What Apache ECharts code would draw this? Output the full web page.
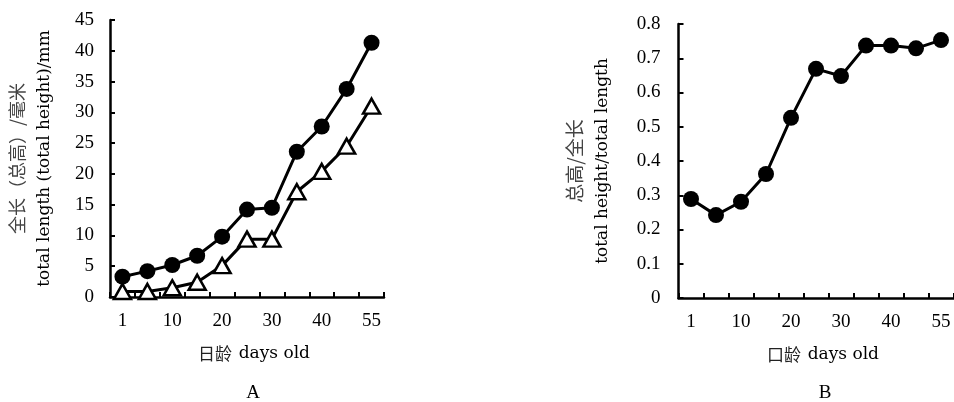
<!DOCTYPE html>
<html>
<head>
<meta charset="utf-8">
<script src="https://cdn.jsdelivr.net/npm/echarts@6/dist/echarts.min.js"></script>
<style>html,body{margin:0;padding:0;background:#fff}#c{width:954px;height:402px}</style>
</head>
<body>
<div id="c"></div>
<script>
var days = ['1','5','10','15','20','25','30','35','40','45','55'];
var totalLength = [3.3,4.2,5.2,6.7,9.8,14.2,14.5,23.6,27.7,33.8,41.3];
var totalHeight = [0.9,0.9,1.5,2.4,5.1,9.4,9.4,17.1,20.4,24.5,31.0];
var heightRatio = [0.289,0.242,0.281,0.362,0.526,0.669,0.648,0.737,0.737,0.729,0.753];
var yTicksA = {min:0,max:45,interval:5};
var yTicksB = {min:0,max:0.8,interval:0.1};

var serif = 'Liberation Serif';
var nameFont = 'DejaVu Serif';
var cjk = 'Noto Sans CJK SC';

function xAxis(idx, cnName){
  return {
    type:'category', gridIndex:idx, data:days, boundaryGap:true,
    axisLine:{lineStyle:{color:'#000',width:2.5}},
    axisTick:{show:true,inside:true,length:5,interval:0,lineStyle:{color:'#000',width:2}},
    axisLabel:{interval:1,margin:15,color:'#000',fontFamily:serif,fontSize:19},
    splitLine:{show:false},
    name:'{cn|'+cnName+'}  {en|days old}',
    nameLocation:'middle', nameGap:48,
    nameTextStyle:{padding:[0,0,0,14],rich:{
      cn:{fontFamily:cjk,fontSize:17,color:'#222'},
      en:{fontFamily:nameFont,fontSize:17,color:'#000'}
    }}
  };
}
function yAxis(idx, t, cnName, enName, gap, fmt, margin, cnSize){
  return {
    type:'value', gridIndex:idx, min:t.min, max:t.max, interval:t.interval,
    axisLine:{show:true,lineStyle:{color:'#000',width:2.5}},
    axisTick:{show:true,inside:true,length:5,lineStyle:{color:'#000',width:2}},
    axisLabel:{margin:margin,color:'#000',fontFamily:serif,fontSize:19,formatter:fmt},
    splitLine:{show:false},
    name:'{cn|'+cnName+'}\n{en|'+enName+'}',
    nameLocation:'middle', nameRotate:90, nameGap:gap,
    nameTextStyle:{rich:{
      cn:{fontFamily:cjk,fontSize:cnSize,color:'#444',lineHeight:28},
      en:{fontFamily:nameFont,fontSize:17,color:'#000',lineHeight:28}
    }}
  };
}
var chart = echarts.init(document.getElementById('c'));
chart.setOption({
  backgroundColor:'#fff',
  animation:false,
  grid:[
    {left:110,top:20,width:274,height:277},
    {left:678.5,top:24,width:275,height:274}
  ],
  xAxis:[xAxis(0,'日龄'), xAxis(1,'口龄')],
  yAxis:[
    yAxis(0,yTicksA,'全长（总高）/毫米','total length (total height)/mm',51,function(v){return String(v);},16,18),
    yAxis(1,yTicksB,'总高/全长','total height/total length',62,function(v){return v===0?'0':v.toFixed(1);},18,19)
  ],
  series:[
    {type:'line',xAxisIndex:0,yAxisIndex:0,data:totalHeight,symbol:'triangle',symbolSize:[17,15],
     lineStyle:{color:'#000',width:3},itemStyle:{color:'#fff',borderColor:'#000',borderWidth:2.5},z:2},
    {type:'line',xAxisIndex:0,yAxisIndex:0,data:totalLength,symbol:'circle',symbolSize:16,
     lineStyle:{color:'#000',width:3},itemStyle:{color:'#000'},z:3},
    {type:'line',xAxisIndex:1,yAxisIndex:1,data:heightRatio,symbol:'circle',symbolSize:16,
     lineStyle:{color:'#000',width:3},itemStyle:{color:'#000'},z:3}
  ],
  graphic:[
    {type:'text',x:253,y:393,style:{text:'A',fontFamily:serif,fontSize:19,fill:'#000',align:'center',verticalAlign:'middle'}},
    {type:'text',x:825,y:393,style:{text:'B',fontFamily:serif,fontSize:19,fill:'#000',align:'center',verticalAlign:'middle'}}
  ]
});
</script>
</body>
</html>
